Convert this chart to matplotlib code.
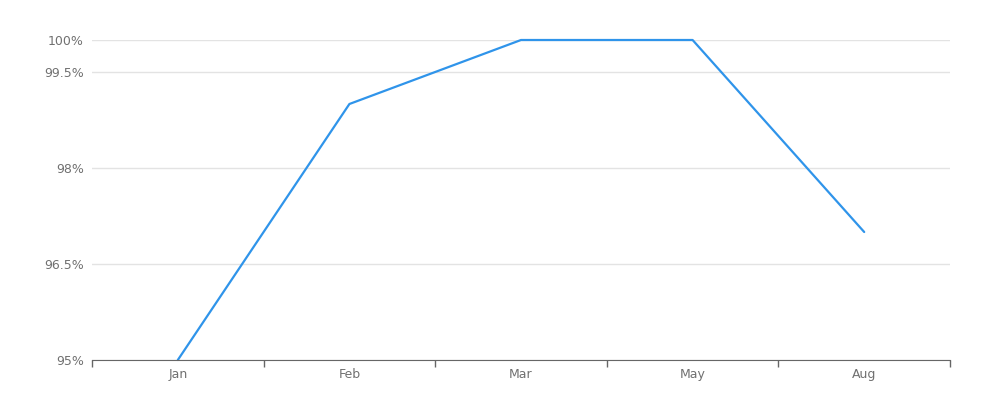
import numpy as np
import matplotlib.pyplot as plt

months = ["Jan", "Feb", "Mar", "May", "Aug"]
values = [95, 99, 100, 100, 97]
y_ticks = [95, 96.5, 98, 99.5, 100]
y_labels = ["95%", "96.5%", "98%", "99.5%", "100%"]

fig = plt.figure(figsize=(10, 4), dpi=100)
ax = fig.add_axes([0.092, 0.1, 0.858, 0.8])

x = np.arange(len(months))
ax.plot(x, values, color="#2f94ea", linewidth=1.6, solid_capstyle="round",
        zorder=3, clip_on=False)

ax.set_xlim(-0.5, len(months) - 0.5)
ax.set_ylim(95, 100)

# category labels centred, tick marks on band edges
ax.set_xticks(x)
ax.set_xticklabels(months, color="#707070", fontsize=9)
ax.set_xticks(np.arange(len(months) + 1) - 0.5, minor=True)
ax.tick_params(axis="x", which="major", length=0, pad=6)
ax.tick_params(axis="x", which="minor", length=5, color="#666666", width=1)

ax.set_yticks(y_ticks)
ax.set_yticklabels(y_labels, color="#707070", fontsize=9)
ax.tick_params(axis="y", length=0, pad=6)
ax.grid(axis="y", color="#e3e3e3", linewidth=1)
ax.set_axisbelow(True)

for s in ["top", "right", "left"]:
    ax.spines[s].set_visible(False)
ax.spines["bottom"].set_color("#666666")
ax.spines["bottom"].set_zorder(4)

fig.savefig("out.png", dpi=100)
